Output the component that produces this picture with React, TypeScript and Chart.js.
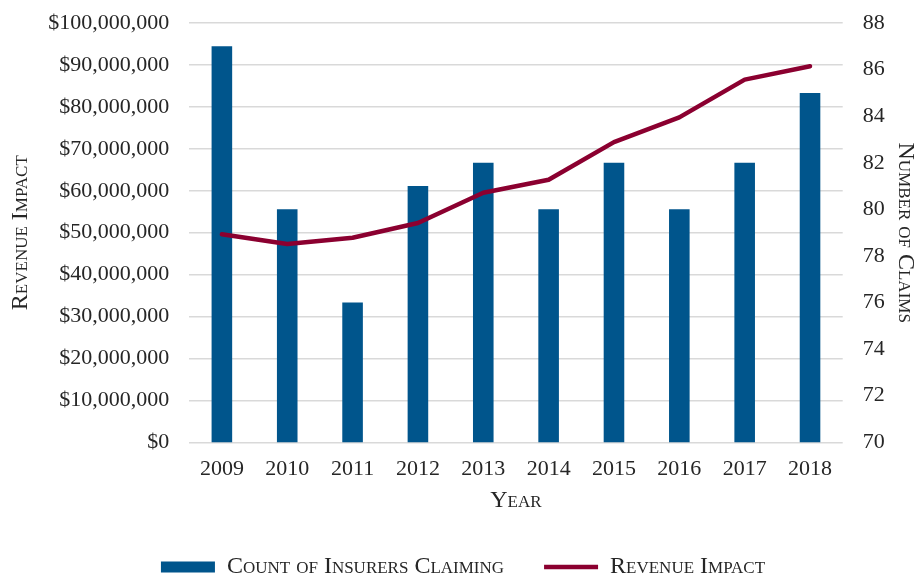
import React, { useEffect, useRef } from "react";
import { Chart, registerables } from "chart.js";

Chart.register(...registerables);

const years = ["2009", "2010", "2011", "2012", "2013", "2014", "2015", "2016", "2017", "2018"];
const insurerCounts = [87, 80, 76, 81, 82, 80, 82, 80, 82, 85];
const revenueImpact = [49600000, 47300000, 48800000, 52300000, 59500000, 62600000, 71600000, 77500000, 86500000, 89700000];

const BAR_COLOR = "#00558C";
const LINE_COLOR = "#8B0030";
const TEXT_COLOR = "#262626";
const FONT = "'Liberation Serif', 'DejaVu Serif', serif";

const fixTop = (scale: any) => {
  scale.paddingTop = 23;
};

export default function App() {
  const ref = useRef<HTMLCanvasElement | null>(null);

  useEffect(() => {
    if (!ref.current) return;
    const chart = new Chart(ref.current, {
      type: "bar",
      data: {
        labels: years,
        datasets: [
          {
            type: "bar",
            label: "Count of Insurers Claiming",
            data: insurerCounts,
            backgroundColor: BAR_COLOR,
            borderWidth: 0,
            yAxisID: "y1",
            order: 1,
            categoryPercentage: 1,
            barPercentage: 0.315,
            pointStyle: "rect",
          } as any,
          {
            type: "line",
            label: "Revenue Impact",
            data: revenueImpact,
            borderColor: LINE_COLOR,
            backgroundColor: LINE_COLOR,
            borderWidth: 4.5,
            borderCapStyle: "round",
            borderJoinStyle: "round",
            pointRadius: 0,
            tension: 0,
            yAxisID: "y",
            order: 0,
            pointStyle: "line",
          } as any,
        ],
      },
      options: {
        responsive: false,
        animation: false,
        maintainAspectRatio: false,
        layout: { padding: { top: 0, left: 6, right: -4, bottom: 0 } },
        plugins: {
          tooltip: { enabled: false },
          legend: {
            position: "bottom",
            maxHeight: 64,
            labels: {
              usePointStyle: true,
              pointStyleWidth: 54,
              boxHeight: 11,
              padding: 40,
              color: TEXT_COLOR,
              font: { family: FONT, size: 24, weight: "small-caps" as any },
              sort: (a: any, b: any) => a.datasetIndex - b.datasetIndex,
            },
          },
        },
        scales: {
          x: {
            grid: { display: false },
            border: { display: false },
            ticks: { color: TEXT_COLOR, font: { family: FONT, size: 22 }, padding: 6 },
            title: {
              display: true,
              text: "Year",
              color: TEXT_COLOR,
              font: { family: FONT, size: 24, weight: "small-caps" as any },
              padding: { top: -2.5, bottom: 0 },
            },
          },
          y: {
            position: "left",
            min: 0,
            max: 100000000,
            afterFit: fixTop,
            grid: { color: "#d9d9d9", lineWidth: 1.5, drawTicks: false },
            border: { display: false },
            ticks: {
              stepSize: 10000000,
              padding: 20,
              color: TEXT_COLOR,
              font: { family: FONT, size: 22 },
              callback: (v: any) => "$" + Number(v).toLocaleString("en-US"),
            },
            title: {
              display: true,
              text: "Revenue Impact",
              color: TEXT_COLOR,
              font: { family: FONT, size: 24, weight: "small-caps" as any },
              padding: { top: 0, bottom: -6.6 },
            },
          },
          y1: {
            position: "right",
            min: 70,
            max: 88,
            afterFit: fixTop,
            grid: { drawOnChartArea: false, drawTicks: false },
            border: { display: false },
            ticks: {
              stepSize: 2,
              padding: 20,
              color: TEXT_COLOR,
              font: { family: FONT, size: 22 },
            },
            title: {
              display: true,
              text: "Number of Claims",
              color: TEXT_COLOR,
              font: { family: FONT, size: 24, weight: "small-caps" as any },
              padding: { top: 0, bottom: -13.5 },
            },
          },
        },
      },
    });
    return () => chart.destroy();
  }, []);

  return (
    <div style={{ position: "fixed", left: 0, top: 0, width: 916, height: 579, background: "#fff" }}>
      <canvas ref={ref} width={916} height={579} style={{ width: 916, height: 579, display: "block" }} />
    </div>
  );
}
